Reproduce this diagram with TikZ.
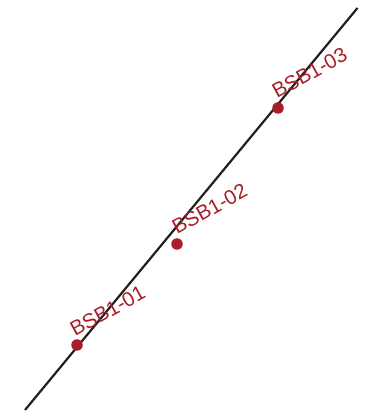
\documentclass[tikz,border=0pt]{standalone}
\usepackage{fontspec}
\setmainfont{Liberation Sans}
\definecolor{dotred}{HTML}{A71E28}
\definecolor{linegray}{HTML}{231F20}
\begin{document}
\begin{tikzpicture}[x=1pt,y=1pt,
  station/.style={circle,fill=dotred,inner sep=0pt,minimum size=11.5pt},
  stlabel/.style={text=dotred,font=\fontsize{20.5}{21}\selectfont,rotate=29,anchor=base west,inner sep=0pt},
  track/.style={draw=linegray,line width=2.2pt}]
\useasboundingbox (0,0) rectangle (366,416);
\coordinate (s) at (25,6);
\coordinate (e) at (357.5,408);
\draw[track] (s) -- (e);
\node[station] (p1) at (77,71) {};
\node[station] (p2) at (177,172) {};
\node[station] (p3) at (278,308) {};
\node[stlabel] (l1) at (75,79) {BSB1-01};
\node[stlabel] (l2) at (177,181) {BSB1-02};
\node[stlabel] (l3) at (277,317) {BSB1-03};
\end{tikzpicture}
\end{document}
